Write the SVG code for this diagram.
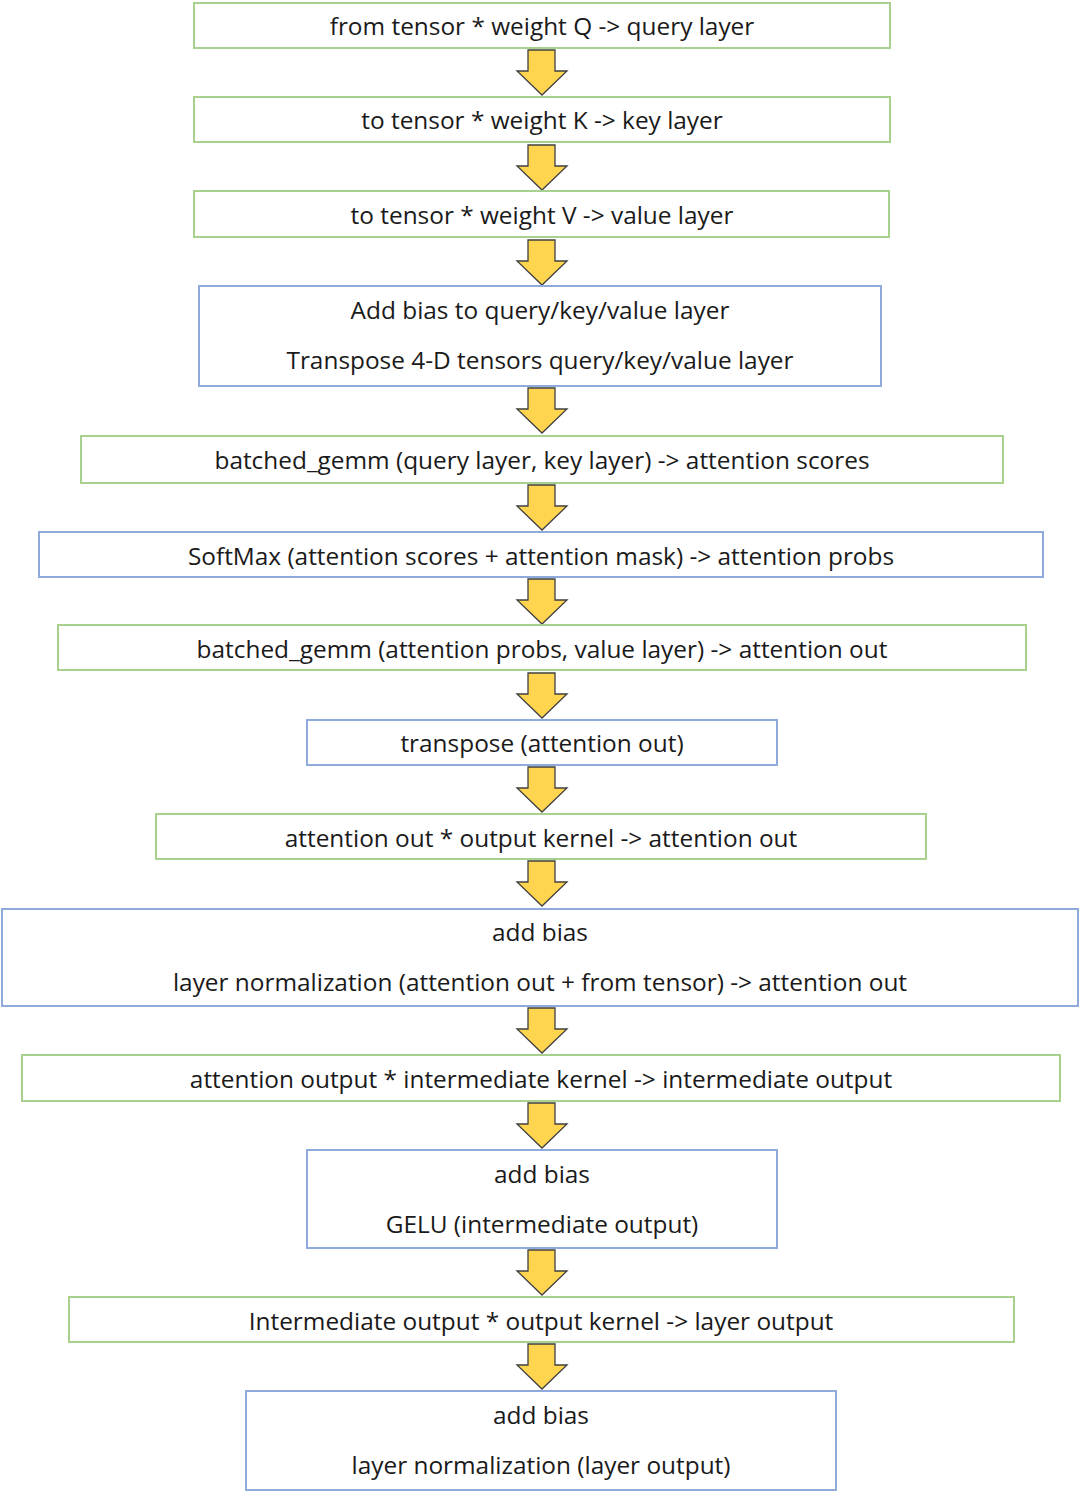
<svg xmlns="http://www.w3.org/2000/svg" width="1080" height="1498" viewBox="0 0 1080 1498">
<style>
.g{fill:#fff;stroke:#a9d18e;stroke-width:2}
.b{fill:#fff;stroke:#8faadc;stroke-width:2}
text{font-family:"Open Sans","Noto Sans",sans-serif;font-size:24.4px;fill:#1a1a1a;text-anchor:middle;dominant-baseline:central}
.a{fill:#ffd54f;stroke:#404040;stroke-width:1.3;stroke-linejoin:miter}
</style>
<defs>
<path id="arr" d="M-14,0 H13 V21 H25 L0,45 L-25,21 H-14 Z"/>
</defs>
<rect width="1080" height="1498" fill="#fff"/>
<g id="connectors">
<use href="#arr" class="a" x="542" y="50"/>
<use href="#arr" class="a" x="542" y="145"/>
<use href="#arr" class="a" x="542" y="240"/>
<use href="#arr" class="a" x="542" y="388"/>
<use href="#arr" class="a" x="542" y="485"/>
<use href="#arr" class="a" x="542" y="579"/>
<use href="#arr" class="a" x="542" y="673"/>
<use href="#arr" class="a" x="542" y="767"/>
<use href="#arr" class="a" x="542" y="861"/>
<use href="#arr" class="a" x="542" y="1008"/>
<use href="#arr" class="a" x="542" y="1103"/>
<use href="#arr" class="a" x="542" y="1250"/>
<use href="#arr" class="a" x="542" y="1344"/>
</g>
<g id="n1"><rect class="g" x="194" y="3" width="696" height="45"/><text x="542" y="25">from tensor * weight Q -&gt; query layer</text></g>
<g id="n2"><rect class="g" x="194" y="97" width="696" height="45"/><text x="542" y="119">to tensor * weight K -&gt; key layer</text></g>
<g id="n3"><rect class="g" x="194" y="191" width="695" height="46"/><text x="542" y="214">to tensor * weight V -&gt; value layer</text></g>
<g id="n4"><rect class="b" x="199" y="286" width="682" height="100"/><text x="540" y="309">Add bias to query/key/value layer</text><text x="540" y="359">Transpose 4-D tensors query/key/value layer</text></g>
<g id="n5"><rect class="g" x="81" y="436" width="922" height="47"/><text x="542" y="459">batched_gemm (query layer, key layer) -&gt; attention scores</text></g>
<g id="n6"><rect class="b" x="39" y="532" width="1004" height="45"/><text x="541" y="555">SoftMax (attention scores + attention mask) -&gt; attention probs</text></g>
<g id="n7"><rect class="g" x="58" y="625" width="968" height="45"/><text x="542" y="648">batched_gemm (attention probs, value layer) -&gt; attention out</text></g>
<g id="n8"><rect class="b" x="307" y="720" width="470" height="45"/><text x="542" y="742">transpose (attention out)</text></g>
<g id="n9"><rect class="g" x="156" y="814" width="770" height="45"/><text x="541" y="837">attention out * output kernel -&gt; attention out</text></g>
<g id="n10"><rect class="b" x="2" y="909" width="1076" height="97"/><text x="540" y="931">add bias</text><text x="540" y="981">layer normalization (attention out + from tensor) -&gt; attention out</text></g>
<g id="n11"><rect class="g" x="22" y="1055" width="1038" height="46"/><text x="541" y="1078">attention output * intermediate kernel -&gt; intermediate output</text></g>
<g id="n12"><rect class="b" x="307" y="1150" width="470" height="98"/><text x="542" y="1173">add bias</text><text x="542" y="1223">GELU (intermediate output)</text></g>
<g id="n13"><rect class="g" x="69" y="1297" width="945" height="45"/><text x="541" y="1320">Intermediate output * output kernel -&gt; layer output</text></g>
<g id="n14"><rect class="b" x="246" y="1391" width="590" height="99"/><text x="541" y="1414">add bias</text><text x="541" y="1464">layer normalization (layer output)</text></g>
</svg>
